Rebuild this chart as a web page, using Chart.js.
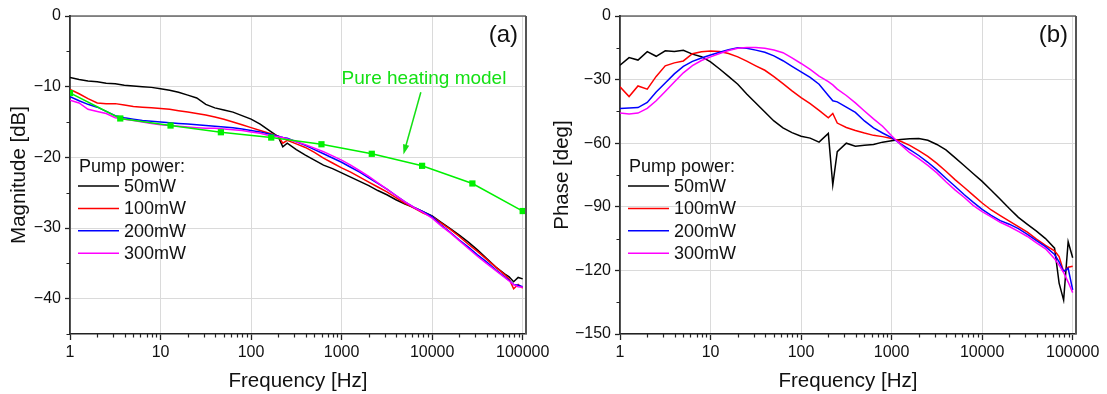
<!DOCTYPE html>
<html>
<head>
<meta charset="utf-8">
<script src="https://cdn.jsdelivr.net/npm/chart.js@4.4.1/dist/chart.umd.min.js"></script>
<style>
  html, body { margin: 0; padding: 0; background: #fff; }
  #wrap { position: relative; width: 1107px; height: 394px; overflow: hidden; }
  .panel { position: absolute; top: 0; height: 394px; }
  #pa { left: 0; width: 575px; }
  #pb { left: 545px; width: 562px; }
</style>
</head>
<body>
<div id="wrap">
  <div class="panel" id="pa"><canvas id="magChart" width="575" height="394"></canvas></div>
  <div class="panel" id="pb"><canvas id="phaseChart" width="562" height="394"></canvas></div>
</div>
<script>
// measured sweep frequencies [Hz]
var freq = [1, 1.26, 1.58, 2, 2.51, 3.16, 3.98, 5.01, 6.31, 7.94,
    10, 12.6, 15.8, 20, 25.1, 31.6, 39.8, 50.1, 63.1, 79.4,
    100, 126, 158, 200, 224, 251, 316, 398, 501, 631, 794,
    1000, 1259, 1585, 1995, 2512, 3162, 3981, 5012, 6310, 7943,
    10000, 12589, 15849, 19953, 25119, 31623, 39811, 50119, 63096, 70795, 79433, 89125,
    100000];

var powerLabels = ['50mW', '100mW', '200mW', '300mW'];
var powerColors = ['#000000', '#ff0000', '#0000ff', '#ff00ff'];

// magnitude [dB]
var mag50 = [-8.7, -9.0, -9.2, -9.3, -9.5, -9.6, -9.8, -9.9, -10.0, -10.1,
    -10.3, -10.5, -10.8, -11.2, -11.6, -12.5, -13.0, -13.3, -13.6, -14.1,
    -14.6, -15.3, -16.2, -17.1, -18.5, -18.0, -18.9, -19.7, -20.4, -21.1, -21.6,
    -22.2, -22.8, -23.4, -24.0, -24.7, -25.3, -26.0, -26.6, -27.1, -27.7,
    -28.3, -29.2, -30.1, -31.0, -32.0, -33.1, -34.3, -35.5, -36.5, -36.9, -37.6, -37.0,
    -37.2];
var mag100 = [-10.4, -11.0, -11.7, -12.3, -12.4, -12.4, -12.6, -12.8, -12.9, -13.0,
    -13.1, -13.2, -13.4, -13.6, -13.8, -14.0, -14.3, -14.6, -15.0, -15.4,
    -15.8, -16.2, -16.6, -17.0, -18.0, -17.6, -18.1, -18.6, -19.3, -20.1, -20.8,
    -21.5, -22.1, -22.8, -23.5, -24.2, -24.9, -25.7, -26.5, -27.2, -27.9,
    -28.4, -29.3, -30.2, -31.2, -32.3, -33.3, -34.4, -35.5, -36.6, -37.2, -38.6, -38.0,
    -38.5];
var mag200 = [-11.4, -12.0, -12.5, -12.9, -13.5, -14.1, -14.4, -14.6, -14.8, -14.9,
    -15.0, -15.1, -15.2, -15.3, -15.4, -15.5, -15.6, -15.7, -15.8, -16.0,
    -16.2, -16.4, -16.7, -17.0, -17.2, -17.3, -17.8, -18.3, -18.9, -19.5, -20.1,
    -20.7, -21.4, -22.1, -22.9, -23.7, -24.5, -25.4, -26.3, -27.1, -27.7,
    -28.4, -29.6, -30.6, -31.7, -32.7, -33.8, -34.8, -35.9, -36.9, -37.4, -38.0, -38.1,
    -38.3];
var mag300 = [-11.9, -12.3, -13.2, -13.5, -13.8, -14.4, -14.6, -14.8, -15.0, -15.2,
    -15.4, -15.5, -15.6, -15.7, -15.8, -15.9, -15.9, -16.0, -16.1, -16.2,
    -16.4, -16.6, -16.9, -17.1, -17.2, -17.4, -17.8, -18.2, -18.7, -19.2, -19.8,
    -20.4, -21.1, -21.9, -22.7, -23.6, -24.5, -25.4, -26.3, -27.1, -27.8,
    -28.6, -29.7, -30.7, -31.8, -32.9, -34.0, -35.0, -36.0, -37.0, -37.5, -38.0, -38.3,
    -38.4];

// pure heating model
var modelFreq = [1, 3.59, 12.9, 46.4, 167, 599, 2154, 7743, 27826, 100000];
var modelMag = [-10.9, -14.5, -15.5, -16.45, -17.2, -18.15, -19.5, -21.2, -23.7, -27.6];

// phase [deg]
var ph50 = [-23.2, -19.6, -20.8, -16.8, -19.0, -16.4, -16.8, -16.2, -18.0, -19.2,
    -21.6, -25.0, -28.5, -32.2, -36.8, -41.0, -45.3, -49.5, -52.8, -55.0,
    -56.7, -57.6, -59.5, -55.4, -79.7, -64.0, -60.0, -61.4, -61.0, -60.6, -59.5,
    -58.8, -58.3, -57.9, -57.8, -58.6, -60.6, -63.2, -66.8, -70.5, -74.3,
    -78.0, -82.2, -86.4, -90.8, -95.0, -98.3, -101.5, -105.0, -109.5, -126.0, -134.0, -106.5,
    -114.0];
var ph100 = [-33.4, -38.0, -33.0, -34.5, -28.5, -23.5, -22.1, -21.2, -17.8, -16.9,
    -16.5, -16.8, -17.7, -19.3, -21.3, -23.5, -25.6, -28.6, -31.9, -35.3,
    -38.5, -41.3, -44.5, -48.0, -46.0, -50.5, -52.6, -54.0, -55.2, -56.3, -56.9,
    -57.8, -59.1, -61.0, -63.5, -66.2, -69.5, -73.2, -77.2, -80.8, -84.5,
    -88.2, -91.5, -94.2, -96.8, -99.3, -102.0, -105.2, -108.2, -110.8, -113.5, -120.6, -118.5,
    -118.0];
var ph200 = [-43.6, -43.4, -43.2, -40.8, -35.8, -31.6, -27.3, -23.8, -21.4, -19.8,
    -18.4, -17.1, -15.9, -15.0, -15.2, -16.1, -17.1, -18.8, -21.1, -23.8,
    -26.4, -29.0, -32.2, -37.5, -40.0, -40.5, -43.0, -45.5, -49.5, -52.8, -55.2,
    -57.4, -60.3, -63.0, -65.8, -69.0, -72.6, -76.5, -80.3, -84.2, -87.8,
    -91.2, -94.0, -96.5, -98.2, -100.3, -103.0, -106.0, -108.8, -112.5, -116.0, -120.5, -119.0,
    -129.2];
var ph300 = [-45.7, -46.2, -45.8, -43.6, -40.0, -35.6, -31.1, -26.8, -23.4, -21.0,
    -19.3, -17.7, -16.3, -15.2, -14.9, -14.9, -15.2, -16.0, -17.3, -19.8,
    -22.4, -25.2, -28.4, -31.0, -32.5, -34.5, -37.5, -41.0, -44.8, -48.5, -52.0,
    -56.5, -60.7, -64.5, -67.3, -70.5, -74.0, -78.2, -82.0, -85.5, -89.3,
    -92.3, -94.8, -97.3, -99.3, -101.6, -104.0, -107.0, -109.8, -114.5, -117.5, -121.0, -125.5,
    -130.5];

// axis ticks
var freqTicks = [1, 10, 100, 1000, 10000, 100000];
var magTicks = [-40, -30, -20, -10, 0];
var phaseTicks = [-150, -120, -90, -60, -30, 0];
var magMinor = [-45, -35, -25, -15, -5];
var phaseMinor = [-135, -105, -75, -45, -15];

var FONT = '"Liberation Sans", Arial, Helvetica, sans-serif';
var TEXT = '#111111';
var GREEN = '#00f000';
var GREEN_TEXT = '#14e014';

function pairs(xs, ys) {
    return xs.map(function (f, i) {
        return {x: f, y: ys[i]};
    });
}

function minusLabel(v) {
    return v < 0 ? '\u2212' + Math.abs(v) : String(v);
}

// frame, minor ticks, legend, panel letter and the model note
var panelDecor = {
    id: 'panelDecor',
    afterDatasetsDraw: function (chart, args, o) {
        var ctx = chart.ctx,
            a = chart.chartArea,
            xs = chart.scales.x,
            ys = chart.scales.y;

        ctx.save();

        ctx.strokeStyle = '#222';
        ctx.lineWidth = 1.2;
        ctx.beginPath();
        ctx.moveTo(a.left, a.top);
        ctx.lineTo(a.right, a.top);
        ctx.stroke();
        ctx.strokeStyle = '#555';
        ctx.lineWidth = 2;
        ctx.beginPath();
        ctx.moveTo(a.right, a.top);
        ctx.lineTo(a.right, a.bottom);
        ctx.stroke();

        ctx.strokeStyle = '#222';
        ctx.lineWidth = 1.2;
        ctx.beginPath();
        freqTicks.forEach(function (d) {
            for (var k = 2; k < 10; k++) {
                if (d * k > xs.max) {
                    return;
                }
                var px = Math.round(xs.getPixelForValue(d * k)) + 0.5;
                ctx.moveTo(px, a.bottom);
                ctx.lineTo(px, a.bottom + 3.5);
            }
        });
        o.minorY.forEach(function (v) {
            var py = Math.round(ys.getPixelForValue(v)) + 0.5;
            ctx.moveTo(a.left, py);
            ctx.lineTo(a.left - 3.5, py);
        });
        ctx.stroke();

        ctx.fillStyle = TEXT;
        ctx.textAlign = 'left';
        ctx.textBaseline = 'alphabetic';
        ctx.font = '18px ' + FONT;
        ctx.fillText('Pump power:', a.left + 9, a.top + 156);
        powerLabels.forEach(function (lab, i) {
            var base = a.top + 176 + i * 22.4;
            ctx.strokeStyle = powerColors[i];
            ctx.lineWidth = 1.5;
            ctx.beginPath();
            ctx.moveTo(a.left + 8, base - 6);
            ctx.lineTo(a.left + 49, base - 6);
            ctx.stroke();
            ctx.fillText(lab, a.left + 54, base);
        });

        ctx.font = '24px ' + FONT;
        ctx.textAlign = 'right';
        ctx.fillText(o.letter, a.right - 8, a.top + 25.5);

        if (o.note) {
            var n = o.note,
                tx = xs.getPixelForValue(n.tail[0]),
                ty = ys.getPixelForValue(n.tail[1]),
                hx = xs.getPixelForValue(n.head[0]),
                hy = ys.getPixelForValue(n.head[1]),
                ang = Math.atan2(hy - ty, hx - tx),
                len = 10,
                half = 3.2;

            ctx.fillStyle = GREEN_TEXT;
            ctx.font = '19px ' + FONT;
            ctx.textAlign = 'left';
            ctx.fillText(n.text, xs.getPixelForValue(n.at[0]), ys.getPixelForValue(n.at[1]));

            ctx.strokeStyle = GREEN_TEXT;
            ctx.lineWidth = 1.5;
            ctx.beginPath();
            ctx.moveTo(tx, ty);
            ctx.lineTo(hx - Math.cos(ang) * len * 0.8, hy - Math.sin(ang) * len * 0.8);
            ctx.stroke();
            ctx.beginPath();
            ctx.moveTo(hx, hy);
            ctx.lineTo(hx - Math.cos(ang) * len - Math.sin(ang) * half,
                hy - Math.sin(ang) * len + Math.cos(ang) * half);
            ctx.lineTo(hx - Math.cos(ang) * len + Math.sin(ang) * half,
                hy - Math.sin(ang) * len - Math.cos(ang) * half);
            ctx.closePath();
            ctx.fill();
        }

        ctx.restore();
    }
};

function powerSets(series) {
    // later entries sit on top, as in the plotted order
    return series.map(function (vals, i) {
        return {
            label: powerLabels[i],
            data: pairs(freq, vals),
            borderColor: powerColors[i],
            backgroundColor: powerColors[i],
            borderWidth: 1.5,
            pointRadius: 0,
            tension: 0,
            order: 4 - i
        };
    });
}

function panelOptions(p) {
    return {
        responsive: false,
        animation: false,
        events: [],
        layout: {padding: {top: 16, right: p.rightPad, bottom: 0, left: 0}},
        plugins: {
            legend: {display: false},
            tooltip: {enabled: false},
            panelDecor: {minorY: p.minorY, letter: p.letter, note: p.note}
        },
        scales: {
            x: {
                type: 'logarithmic',
                min: 1,
                max: 108800,
                afterBuildTicks: function (s) {
                    s.ticks = freqTicks.map(function (v) {
                        return {value: v, major: true};
                    });
                },
                afterFit: function (s) {
                    s.height = 60;
                    s.paddingLeft = 0;
                    s.paddingRight = 0;
                },
                border: {color: '#222', width: 1.5},
                grid: {color: '#dadada', lineWidth: 1, tickLength: 6, tickColor: '#222', tickWidth: 1.3},
                ticks: {
                    autoSkip: false,
                    maxRotation: 0,
                    padding: 3,
                    color: TEXT,
                    font: {family: FONT, size: 16},
                    callback: function (v) {
                        return String(v);
                    }
                },
                title: {
                    display: true,
                    text: 'Frequency [Hz]',
                    color: TEXT,
                    font: {family: FONT, size: 20.5},
                    padding: {top: 0, bottom: 0}
                }
            },
            y: {
                type: 'linear',
                min: p.yMin,
                max: 0,
                afterBuildTicks: function (s) {
                    s.ticks = p.yTicks.map(function (v) {
                        return {value: v};
                    });
                },
                afterFit: function (s) {
                    s.width = p.yWidth;
                    s.paddingTop = 0;
                    s.paddingBottom = 0;
                },
                border: {color: '#333', width: 1.8},
                grid: {color: '#dadada', lineWidth: 1, tickLength: 5, tickColor: '#222', tickWidth: 1.3},
                ticks: {
                    padding: 4,
                    color: TEXT,
                    font: {family: FONT, size: 16},
                    callback: minusLabel
                },
                title: {
                    display: true,
                    text: p.yTitle,
                    color: TEXT,
                    font: {family: FONT, size: 20.5},
                    padding: {top: p.titlePad, bottom: 0}
                }
            }
        }
    };
}

var magSets = powerSets([mag50, mag100, mag200, mag300]);
magSets.push({
    label: 'Pure heating model',
    data: pairs(modelFreq, modelMag),
    borderColor: GREEN,
    backgroundColor: GREEN,
    borderWidth: 1.5,
    pointStyle: 'rect',
    pointRadius: 4.4,
    pointBorderWidth: 0,
    tension: 0,
    order: 0
});

new Chart(document.getElementById('magChart'), {
    type: 'line',
    data: {datasets: magSets},
    options: panelOptions({
        yMin: -45,
        yTicks: magTicks,
        minorY: magMinor,
        yTitle: 'Magnitude [dB]',
        yWidth: 70,
        rightPad: 49,
        titlePad: 7.3,
        letter: '(a)',
        note: {text: 'Pure heating model', at: [1000, -9.6], tail: [7500, -10.8], head: [4820, -19.6]}
    }),
    plugins: [panelDecor]
});

new Chart(document.getElementById('phaseChart'), {
    type: 'line',
    data: {datasets: powerSets([ph50, ph100, ph200, ph300])},
    options: panelOptions({
        yMin: -150,
        yTicks: phaseTicks,
        minorY: phaseMinor,
        yTitle: 'Phase [deg]',
        yWidth: 75,
        rightPad: 31,
        titlePad: 4.7,
        letter: '(b)',
        note: null
    }),
    plugins: [panelDecor]
});
</script>
</body>
</html>
